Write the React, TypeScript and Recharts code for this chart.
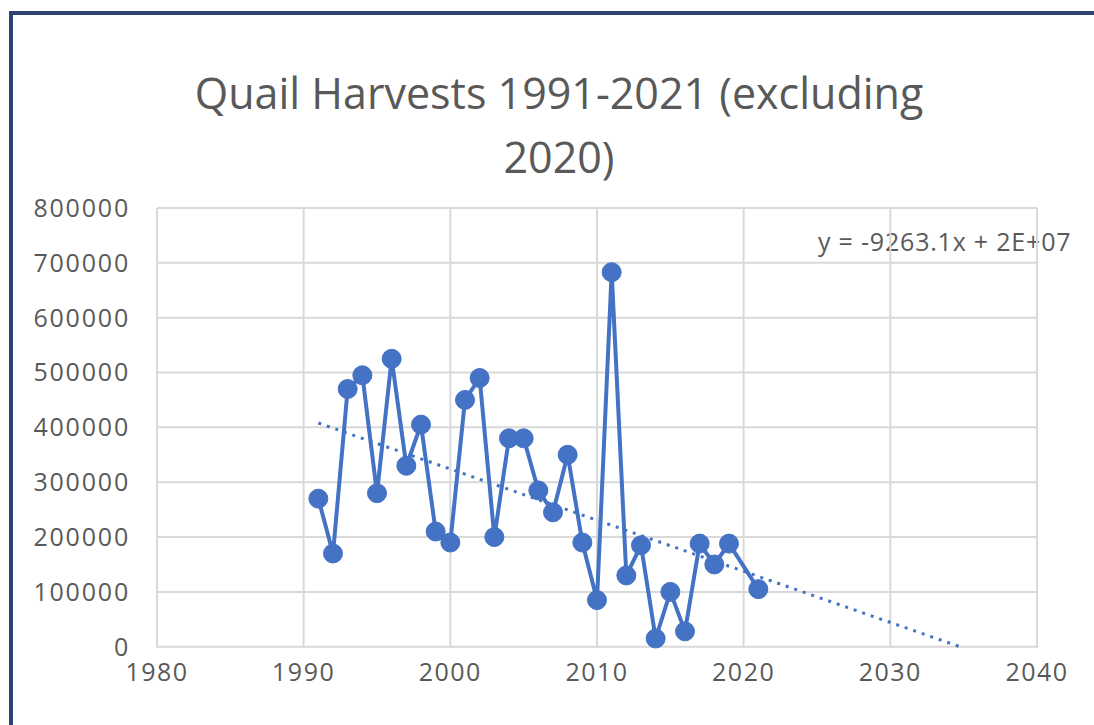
import React from "react";
import { ComposedChart, Line, XAxis, YAxis, CartesianGrid } from "recharts";

const years = [1991, 1992, 1993, 1994, 1995, 1996, 1997, 1998, 1999, 2000, 2001, 2002, 2003, 2004, 2005, 2006, 2007, 2008, 2009, 2010, 2011, 2012, 2013, 2014, 2015, 2016, 2017, 2018, 2019, 2021];
const harvests = [270000, 170000, 470000, 495000, 280000, 525000, 330000, 405000, 210000, 190000, 450000, 490000, 200000, 380000, 380000, 285000, 245000, 350000, 190000, 85000, 683000, 130000, 185000, 15000, 100000, 28000, 188000, 150000, 188000, 105000];
const xTicks = [1980, 1990, 2000, 2010, 2020, 2030, 2040];
const yTicks = [0, 100000, 200000, 300000, 400000, 500000, 600000, 700000, 800000];
const trendYears = [1991, 2035];
const titleLines = ["Quail Harvests 1991-2021 (excluding", "2020)"];
const equationText = "y = -9263.1x + 2E+07";

const data = years.map((year, i) => ({ year, harvest: harvests[i] }));

// least-squares trendline from the data
const n = years.length;
const mx = years.reduce((a, b) => a + b, 0) / n;
const my = harvests.reduce((a, b) => a + b, 0) / n;
let sxy = 0;
let sxx = 0;
years.forEach((x, i) => {
  sxy += (x - mx) * (harvests[i] - my);
  sxx += (x - mx) * (x - mx);
});
const slope = sxy / sxx;
const intercept = my - slope * mx;
const trendData = trendYears.map((year) => ({ year, trend: slope * year + intercept }));

const BLUE = "#4472c4";
const TEXT = "#595959";
const FONT = "'Open Sans', sans-serif";

export default function App() {
  return (
    <div style={{ position: "absolute", left: 0, top: 0, width: 1094, height: 725, overflow: "hidden", background: "#fff" }}>
      <div style={{ position: "absolute", left: 9, top: 11, width: 1200, height: 900, border: "4px solid #2f4373", boxSizing: "border-box" }} />
      <div style={{ position: "absolute", left: 0, width: 1118, top: 61, textAlign: "center", fontFamily: FONT, fontSize: 43, color: TEXT, lineHeight: "64px" }}>
        {titleLines.map((t) => (
          <div key={t}>{t}</div>
        ))}
      </div>
      <div style={{ position: "absolute", left: 818, top: 224, fontFamily: FONT, fontSize: 25, letterSpacing: 0.8, color: TEXT, whiteSpace: "nowrap" }}>
        {equationText}
      </div>
      <div style={{ position: "absolute", left: 0, top: 0 }}>
        <ComposedChart width={1094} height={725} margin={{ top: 208, right: 57, bottom: 45, left: 17 }}>
          <CartesianGrid stroke="#d9d9d9" strokeWidth={2} verticalValues={xTicks} horizontalValues={yTicks} />
          <XAxis
            dataKey="year"
            type="number"
            domain={[1980, 2040]}
            ticks={xTicks}
            allowDataOverflow
            axisLine={false}
            tickLine={false}
            tickMargin={9}
            height={32}
            tick={{ fill: TEXT, fontSize: 25, fontFamily: FONT, letterSpacing: 1.5 }}
          />
          <YAxis
            type="number"
            domain={[0, 800000]}
            ticks={yTicks}
            axisLine={false}
            tickLine={false}
            width={140}
            tickMargin={21}
            tick={{ fill: TEXT, fontSize: 25, fontFamily: FONT, letterSpacing: 1.8 }}
          />
          <Line
            data={trendData}
            dataKey="trend"
            stroke={BLUE}
            strokeWidth={3}
            strokeDasharray="3 6"
            dot={false}
            isAnimationActive={false}
          />
          <Line
            data={data}
            dataKey="harvest"
            stroke={BLUE}
            strokeWidth={4}
            dot={{ r: 9.5, fill: BLUE, stroke: BLUE, strokeWidth: 1 }}
            isAnimationActive={false}
          />
        </ComposedChart>
      </div>
    </div>
  );
}
